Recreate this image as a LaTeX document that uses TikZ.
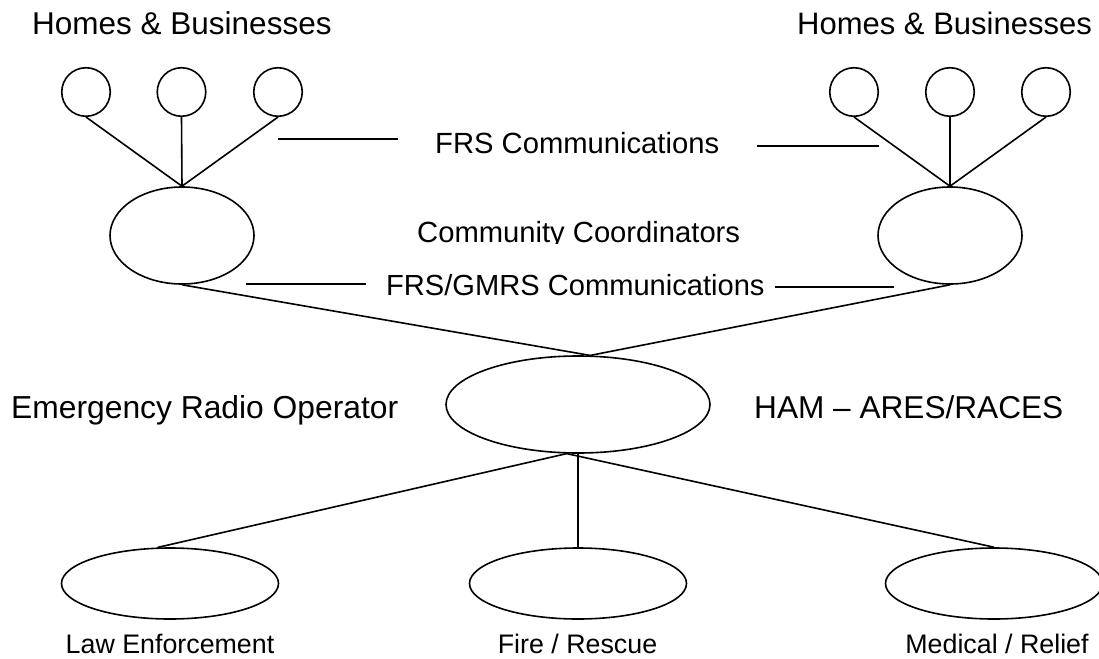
\documentclass[tikz,border=0pt]{standalone}
\usepackage{fontspec}
\setmainfont{Liberation Sans}
\usetikzlibrary{shapes.geometric}
\begin{document}
\begin{tikzpicture}[x=1pt,y=-1pt,
  wire/.style={draw=black,line width=1.6pt},
  home/.style={circle,draw=black,line width=1.6pt,minimum size=48.5pt,inner sep=0pt},
  coord/.style={ellipse,draw=black,line width=1.6pt,minimum width=144pt,minimum height=97pt,inner sep=0pt},
  radio/.style={ellipse,draw=black,line width=1.6pt,minimum width=264pt,minimum height=97pt,inner sep=0pt},
  agency/.style={ellipse,draw=black,line width=1.6pt,minimum width=217pt,minimum height=71pt,inner sep=0pt},
  lbl/.style={anchor=base west,inner sep=0pt,font=\fontsize{#1}{36}\selectfont},
  small/.style={anchor=base,inner sep=0pt,font=\fontsize{26.8}{31}\selectfont}]
\useasboundingbox (0,0) rectangle (1099,658);
\fill[white] (0,0) rectangle (1099,658);

% labels
\node[lbl=31.5] (hbL) at (32,35) {Homes \& Businesses};
\node[lbl=31] (hbR) at (797,35) {Homes \& Businesses};
\node[lbl=29.2] (frs) at (435,153) {FRS Communications};
\begin{scope}
\clip (0,0) rectangle (1099,243);
\node[lbl=29.2] (cc) at (417,242) {Community Coordinators};
\end{scope}
\node[lbl=29.1] (gmrs) at (386,295) {FRS/GMRS Communications};
\node[lbl=31.8] (ero) at (11,418) {Emergency Radio Operator};
\node[lbl=31.6] (ham) at (754,418) {HAM -- ARES/RACES};

% homes
\node[home] (h1) at (86,92) {};
\node[home] (h2) at (181.5,92) {};
\node[home] (h3) at (278,92) {};
\node[home] (h4) at (854,92) {};
\node[home] (h5) at (950,92) {};
\node[home] (h6) at (1046,92) {};

% coordinators
\node[coord] (c1) at (182,235.5) {};
\node[coord] (c2) at (950,235.5) {};

% radio operator
\node[radio] (er) at (578,404.5) {};

% agencies
\node[agency] (law) at (170,583.5) {};
\node[agency] (fire) at (578,583.5) {};
\node[agency] (med) at (994,583.5) {};

\node[small] (lawt) at (170,653) {Law Enforcement};
\node[small] (firet) at (577.5,653) {Fire / Rescue};
\node[small] (medt) at (997,653) {Medical / Relief};

% connectors
\foreach \h in {h1,h2,h3} \draw[wire] (\h.south) -- (c1.north);
\foreach \h in {h4,h5,h6} \draw[wire] (\h.south) -- (c2.north);
\draw[wire] (c1.south) -- (er.76);
\draw[wire] (c2.south) -- (er.76);
\draw[wire] (er.-103) -- (law.109);
\draw[wire] (er.south) -- (fire.north);
\draw[wire] (er.-103) -- (med.north);

% communication rules
\coordinate (f1a) at (278,139); \coordinate (f1b) at (398,139);
\coordinate (f2a) at (757,146); \coordinate (f2b) at (879,146);
\coordinate (g1a) at (246,284); \coordinate (g1b) at (366,284);
\coordinate (g2a) at (775,287); \coordinate (g2b) at (894,287);
\draw[wire] (f1a) -- (f1b);
\draw[wire] (f2a) -- (f2b);
\draw[wire] (g1a) -- (g1b);
\draw[wire] (g2a) -- (g2b);
\end{tikzpicture}
\end{document}
